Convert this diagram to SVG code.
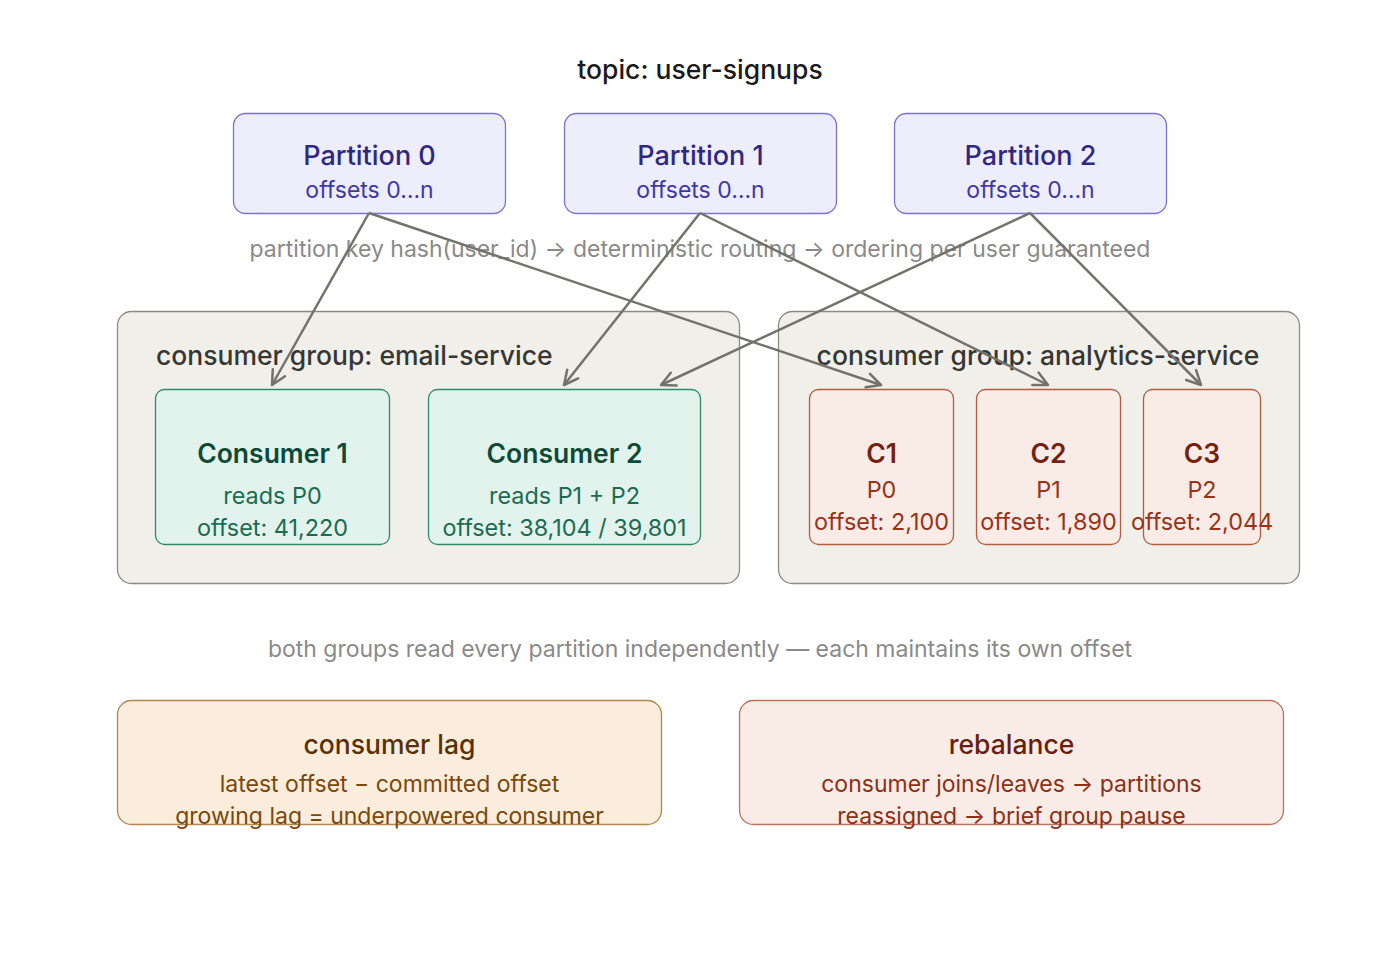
<svg xmlns="http://www.w3.org/2000/svg" width="1400" height="972" viewBox="0 0 1400 972">
<defs>
<style>
text{font-family:Inter,"Noto Sans","Liberation Sans",sans-serif;text-anchor:middle}
.title{font-size:26.5px;font-weight:500;fill:#1a1a1a}
.note{font-size:23px;fill:#8a8a88}
.part rect{fill:#eeedfc;stroke:#7d72d4;stroke-width:1.3}
.part .h{font-size:27px;font-weight:500;fill:#2e2882}
.part .s{font-size:23px;fill:#3e36ad}
.grp{fill:#f1efe9;stroke:#8c8b86;stroke-width:1.3}
.gl{font-size:26.5px;font-weight:500;fill:#363633}
.cg rect{fill:#e1f3ec;stroke:#2f8a6a;stroke-width:1.3}
.cg .h{font-size:26.5px;font-weight:600;fill:#0e4a37}
.cg .s{font-size:23.4px;fill:#1c6b50}
.ca rect{fill:#f9ebe6;stroke:#b65a40;stroke-width:1.3}
.ca .h{font-size:26.5px;font-weight:600;fill:#74220f}
.ca .s{font-size:23.4px;fill:#973318}
.lag rect{fill:#faeddb;stroke:#b08850;stroke-width:1.3}
.lag .h{font-size:26.5px;font-weight:500;fill:#5a3008}
.lag .s{font-size:23px;fill:#7a480c}
.reb rect{fill:#f9ebe6;stroke:#b87460;stroke-width:1.3}
.reb .h{font-size:26.5px;font-weight:500;fill:#6a1f0e}
.reb .s{font-size:23px;fill:#8c3015}
.edge{stroke:#73736e;stroke-width:2.5;fill:none;marker-end:url(#arr)}
</style>
<marker id="arr" viewBox="0 0 20 20" refX="17" refY="10" markerWidth="20" markerHeight="20" markerUnits="userSpaceOnUse" orient="auto">
<path d="M3,3 L17,10 L3,17" fill="none" stroke="#73736e" stroke-width="2.5" stroke-linecap="round" stroke-linejoin="round"/>
</marker>
</defs>
<rect width="1400" height="972" fill="#ffffff"/>
<text class="title" x="700" y="79">topic: user-signups</text>

<g id="partition0" class="part"><rect x="233.5" y="113.5" width="272" height="100" rx="12"/><text class="h" x="369.5" y="165">Partition 0</text><text class="s" x="369.5" y="198">offsets 0…n</text></g>
<g id="partition1" class="part"><rect x="564.5" y="113.5" width="272" height="100" rx="12"/><text class="h" x="700.5" y="165">Partition 1</text><text class="s" x="700.5" y="198">offsets 0…n</text></g>
<g id="partition2" class="part"><rect x="894.5" y="113.5" width="272" height="100" rx="12"/><text class="h" x="1030.5" y="165">Partition 2</text><text class="s" x="1030.5" y="198">offsets 0…n</text></g>

<text class="note" x="700" y="257">partition key hash(user_id) → deterministic routing → ordering per user guaranteed</text>

<g id="group-email"><rect class="grp" x="117.5" y="311.5" width="622" height="272" rx="14"/><text class="gl" x="156" y="365" style="text-anchor:start">consumer group: email-service</text></g>
<g id="group-analytics"><rect class="grp" x="778.5" y="311.5" width="521" height="272" rx="14"/><text class="gl" x="1038" y="365">consumer group: analytics-service</text></g>

<g id="consumer1" class="cg"><rect x="155.5" y="389.5" width="234" height="155" rx="9"/><text class="h" x="272.5" y="463">Consumer 1</text><text class="s" x="272.5" y="504">reads P0</text><text class="s" x="272.5" y="536">offset: 41,220</text></g>
<g id="consumer2" class="cg"><rect x="428.5" y="389.5" width="272" height="155" rx="9"/><text class="h" x="564.5" y="463">Consumer 2</text><text class="s" x="564.5" y="504">reads P1 + P2</text><text class="s" x="564.5" y="536">offset: 38,104 / 39,801</text></g>

<g id="c1" class="ca"><rect x="809.5" y="389.5" width="144" height="155" rx="9"/><text class="h" x="881.5" y="463">C1</text><text class="s" x="881.5" y="498">P0</text><text class="s" x="881.5" y="530">offset: 2,100</text></g>
<g id="c2" class="ca"><rect x="976.5" y="389.5" width="144" height="155" rx="9"/><text class="h" x="1048.5" y="463">C2</text><text class="s" x="1048.5" y="498">P1</text><text class="s" x="1048.5" y="530">offset: 1,890</text></g>
<g id="c3" class="ca"><rect x="1143.5" y="389.5" width="117" height="155" rx="9"/><text class="h" x="1202" y="463">C3</text><text class="s" x="1202" y="498">P2</text><text class="s" x="1202" y="530">offset: 2,044</text></g>

<g id="connectors">
<line class="edge" x1="369" y1="213" x2="272" y2="385"/>
<line class="edge" x1="369" y1="213" x2="881" y2="385"/>
<line class="edge" x1="700" y1="213" x2="564" y2="385"/>
<line class="edge" x1="700" y1="213" x2="1048" y2="385"/>
<line class="edge" x1="1030" y1="213" x2="661" y2="385"/>
<line class="edge" x1="1030" y1="213" x2="1201" y2="385"/>
</g>

<text class="note" x="700" y="657">both groups read every partition independently — each maintains its own offset</text>

<g id="consumer-lag" class="lag"><rect x="117.5" y="700.5" width="544" height="124" rx="14"/><text class="h" x="389.5" y="754">consumer lag</text><text class="s" x="389.5" y="792">latest offset − committed offset</text><text class="s" x="389.5" y="824">growing lag = underpowered consumer</text></g>
<g id="rebalance" class="reb"><rect x="739.5" y="700.5" width="544" height="124" rx="14"/><text class="h" x="1011.5" y="754">rebalance</text><text class="s" x="1011.5" y="792">consumer joins/leaves → partitions</text><text class="s" x="1011.5" y="824">reassigned → brief group pause</text></g>
</svg>
